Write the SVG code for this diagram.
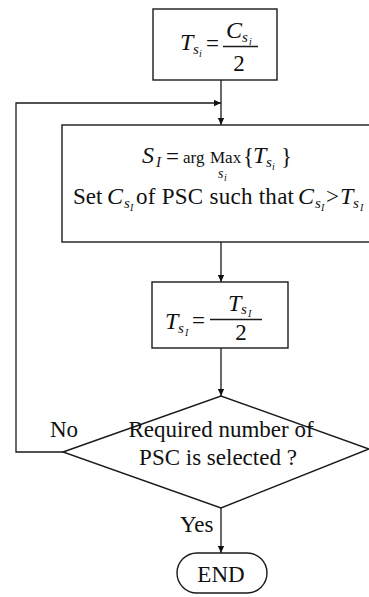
<svg xmlns="http://www.w3.org/2000/svg" width="369" height="597" viewBox="0 0 369 597">
  <style>
    .ln{fill:none;stroke:#1a1a1a;stroke-width:1.3}
    .box{fill:#fff;stroke:#1a1a1a;stroke-width:1.4}
    .tx{font-family:"Liberation Serif","Times New Roman",serif;fill:#111;font-size:23px}
    .m{font-style:italic;font-size:24px}
    .sub{font-style:italic;font-size:15px}
    .sub2{font-style:italic;font-size:10px}
    .op{font-size:17px}
  </style>
  <defs>
    <marker id="ah" viewBox="0 0 10 10" refX="10" refY="5" markerWidth="8" markerHeight="7" markerUnits="userSpaceOnUse" orient="auto">
      <path d="M0,0.5 L10,5 L0,9.5 z" fill="#111"/>
    </marker>
  </defs>
  <rect width="369" height="597" fill="#fff"/>

  <!-- connectors -->
  <g id="connectors" class="ln">
    <line x1="221" y1="80" x2="221" y2="125" marker-end="url(#ah)"/>
    <polyline points="63,452 16,452 16,103 221,103" marker-end="url(#ah)"/>
    <line x1="221" y1="242" x2="221" y2="282" marker-end="url(#ah)"/>
    <line x1="221" y1="348" x2="221" y2="396" marker-end="url(#ah)"/>
    <line x1="221" y1="508" x2="221" y2="553" marker-end="url(#ah)"/>
  </g>

  <!-- initial threshold: T_si = C_si / 2 -->
  <g id="n-init">
    <rect class="box" x="153" y="9" width="124" height="71"/>
    <text class="tx"><tspan class="m" x="180" y="50">T</tspan><tspan class="sub" x="193" y="54">s</tspan><tspan class="sub2" x="199" y="57">i</tspan><tspan x="206" y="51">=</tspan></text>
    <text class="tx"><tspan class="m" x="226" y="38">C</tspan><tspan class="sub" x="242" y="42">s</tspan><tspan class="sub2" x="249" y="45">i</tspan></text>
    <line class="ln" x1="223" y1="46.5" x2="258" y2="46.5"/>
    <text class="tx" x="239" y="71" text-anchor="middle">2</text>
  </g>

  <!-- select the PSC with maximum threshold -->
  <g id="n-select">
    <rect class="box" x="62" y="125" width="320" height="117"/>
    <text class="tx"><tspan class="m" x="142" y="163">S</tspan><tspan class="sub" x="156" y="167">I</tspan><tspan x="166" y="164">=</tspan><tspan class="op" x="183" y="163">arg</tspan><tspan class="op" x="210" y="163">Max</tspan><tspan x="243" y="164">{</tspan><tspan class="m" x="253" y="163">T</tspan><tspan class="sub" x="266" y="167">s</tspan><tspan class="sub2" x="272" y="170">i</tspan><tspan x="281" y="164">}</tspan></text>
    <text class="tx"><tspan class="sub" x="218" y="178" style="font-size:14px">s</tspan><tspan class="sub2" x="224" y="181">i</tspan></text>
    <text class="tx"><tspan x="73" y="204">Set</tspan><tspan class="m" x="107" y="204">C</tspan><tspan class="sub" x="124" y="208">s</tspan><tspan class="sub2" x="130" y="211">I</tspan><tspan x="136" y="204" textLength="158" lengthAdjust="spacing">of PSC such that</tspan><tspan class="m" x="298" y="204">C</tspan><tspan class="sub" x="315" y="208">s</tspan><tspan class="sub2" x="321" y="211">I</tspan><tspan x="326" y="204">&gt;</tspan><tspan class="m" x="340" y="204">T</tspan><tspan class="sub" x="353" y="208">s</tspan><tspan class="sub2" x="360" y="211">I</tspan></text>
  </g>

  <!-- halve the selected threshold -->
  <g id="n-halve">
    <rect class="box" x="152" y="282" width="136" height="66"/>
    <text class="tx"><tspan class="m" x="165" y="329">T</tspan><tspan class="sub" x="178" y="333">s</tspan><tspan class="sub2" x="185" y="336">I</tspan><tspan x="192" y="328">=</tspan></text>
    <text class="tx"><tspan class="m" x="228" y="311">T</tspan><tspan class="sub" x="241" y="314">s</tspan><tspan class="sub2" x="248" y="317">I</tspan></text>
    <line class="ln" x1="210" y1="319.5" x2="262" y2="319.5"/>
    <text class="tx" x="241" y="340" text-anchor="middle">2</text>
  </g>

  <!-- stop condition -->
  <g id="n-check">
    <polygon class="box" points="63,452 221,396 369,449 221,508"/>
    <text class="tx" x="221" y="437" text-anchor="middle">Required number of</text>
    <text class="tx" x="218" y="465" text-anchor="middle">PSC is selected ?</text>
  </g>

  <g id="labels">
    <text class="tx" x="50" y="437">No</text>
    <text class="tx" x="180" y="532">Yes</text>
  </g>

  <g id="n-end">
    <rect class="box" x="177" y="553" width="90" height="40" rx="20"/>
    <text class="tx" x="221" y="582" text-anchor="middle" font-size="22">END</text>
  </g>
</svg>
